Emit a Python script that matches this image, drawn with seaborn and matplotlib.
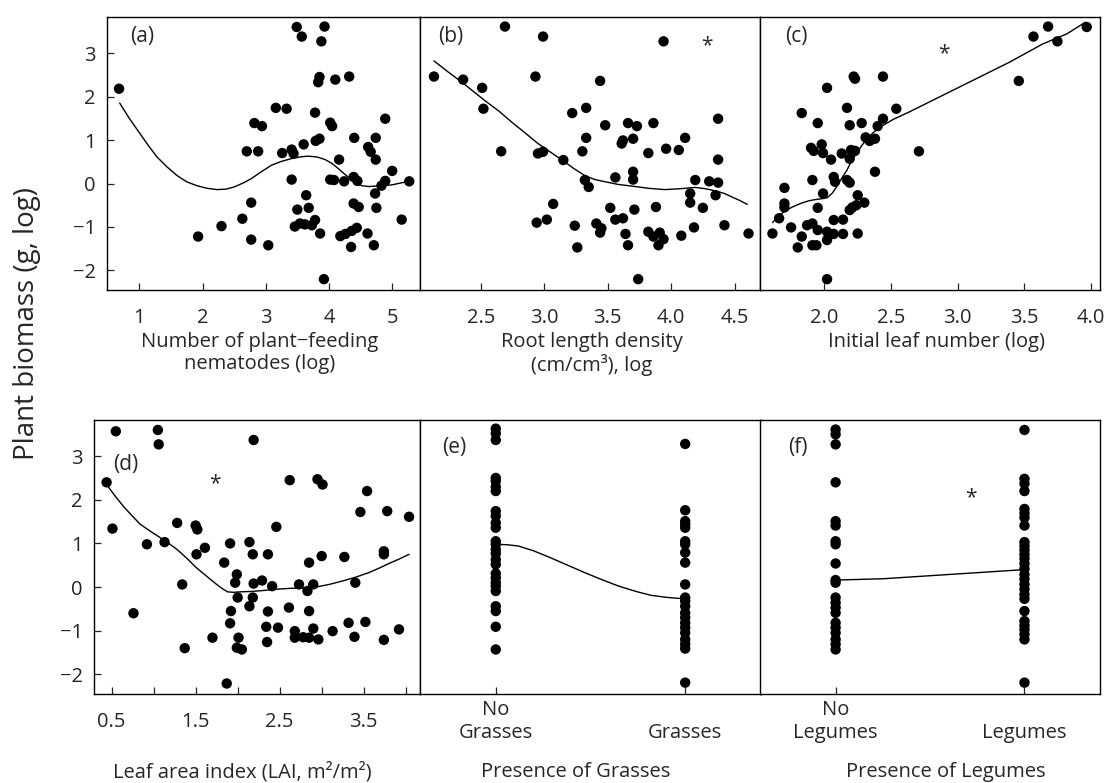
import matplotlib
matplotlib.use("Agg")
import matplotlib.pyplot as plt
import seaborn as sns

# (a) number of plant-feeding nematodes (log)
nema_x = [0.68, 3.49, 3.57, 3.93, 3.88, 3.85, 3.83, 4.10, 4.32, 3.16, 3.33, 3.78, 2.82, 2.94, 4.02,
          4.05, 4.89, 4.40, 4.74, 3.79, 3.85, 3.60, 2.70, 2.88, 3.26, 3.41, 3.44, 4.62, 4.66, 4.74,
          4.16, 5.00, 3.41, 4.02, 4.08, 4.24, 4.39, 4.45, 4.89, 4.83, 4.73, 3.64, 2.77, 4.39, 4.47,
          3.50, 3.68, 4.75, 2.63, 3.46, 3.54, 3.62, 3.78, 3.73, 3.86, 2.30, 1.93, 2.77, 3.04, 4.18,
          4.26, 4.36, 4.44, 4.35, 4.61, 4.71, 3.92, 5.27, 5.15]
nema_y = [2.18, 3.60, 3.38, 3.61, 3.27, 2.45, 2.33, 2.39, 2.46, 1.74, 1.72, 1.63, 1.39, 1.32, 1.40,
          1.32, 1.49, 1.05, 1.05, 0.98, 1.03, 0.90, 0.74, 0.74, 0.70, 0.78, 0.69, 0.84, 0.73, 0.55,
          0.55, 0.29, 0.09, 0.09, 0.08, 0.05, 0.15, 0.06, 0.06, -0.05, -0.23, -0.27, -0.44, -0.46, -0.54,
          -0.60, -0.56, -0.56, -0.81, -0.99, -0.92, -0.94, -0.84, -0.96, -1.15, -0.98, -1.22, -1.29, -1.42, -1.21,
          -1.16, -1.09, -1.02, -1.46, -1.15, -1.42, -2.20, 0.05, -0.83]
nema_fit_x = [0.69, 0.85, 1.01, 1.15, 1.28, 1.44, 1.60, 1.75, 1.91, 2.07, 2.23, 2.37, 2.50, 2.64,
              2.77, 2.93, 3.09, 3.25, 3.40, 3.54, 3.67, 3.81, 3.94, 4.05, 4.15, 4.26, 4.36, 4.44,
              4.52, 4.63, 4.73, 4.87, 5.00, 5.13, 5.26]
nema_fit_y = [1.85, 1.48, 1.15, 0.86, 0.61, 0.38, 0.18, 0.04, -0.05, -0.11, -0.14, -0.13, -0.08, 0.01,
              0.11, 0.27, 0.42, 0.51, 0.57, 0.61, 0.63, 0.61, 0.55, 0.46, 0.34, 0.20, 0.08, 0.00,
              -0.05, -0.07, -0.06, -0.05, -0.03, 0.01, 0.05]

# (b) root length density (cm/cm3), log
root_x = [2.13, 2.69, 2.99, 3.94, 2.36, 2.51, 2.52, 2.93, 3.44, 2.66, 2.95, 2.99, 3.15, 3.22, 3.33,
          3.48, 3.66, 3.73, 3.86, 4.37, 3.33, 3.30, 3.61, 3.62, 3.70, 3.82, 3.96, 4.06, 4.11, 4.37,
          3.32, 3.35, 3.56, 3.70, 3.70, 4.19, 4.30, 4.37, 4.15, 4.15, 4.25, 4.35, 3.07, 2.94, 3.02,
          3.24, 3.26, 3.41, 3.45, 3.44, 3.52, 3.56, 3.62, 3.71, 3.64, 3.66, 3.82, 3.86, 3.91, 3.94,
          3.90, 3.88, 4.08, 4.18, 4.42, 4.61, 3.74]
root_y = [2.46, 3.61, 3.38, 3.27, 2.39, 2.20, 1.72, 2.46, 2.36, 0.74, 0.69, 0.73, 0.54, 1.62, 1.74,
          1.34, 1.39, 1.32, 1.39, 1.49, 1.05, 0.74, 0.92, 0.99, 1.03, 0.70, 0.80, 0.77, 1.05, 0.55,
          0.08, -0.08, 0.14, 0.27, 0.09, 0.08, 0.05, 0.02, -0.23, -0.44, -0.56, -0.27, -0.47, -0.90, -0.83,
          -0.97, -1.47, -0.92, -1.03, -1.13, -0.56, -0.83, -0.80, -0.60, -1.16, -1.42, -1.11, -1.22, -1.13, -1.28,
          -1.42, -0.54, -1.20, -1.01, -0.96, -1.15, -2.20]
root_fit_x = [2.13, 2.24, 2.35, 2.44, 2.53, 2.64, 2.74, 2.85, 2.95, 3.05, 3.14, 3.23, 3.32, 3.40,
              3.48, 3.58, 3.69, 3.82, 3.95, 4.07, 4.19, 4.27, 4.35, 4.42, 4.48, 4.54, 4.60]
root_fit_y = [2.82, 2.57, 2.33, 2.12, 1.91, 1.67, 1.42, 1.16, 0.92, 0.72, 0.54, 0.35, 0.18, 0.09,
              0.04, -0.02, -0.06, -0.11, -0.14, -0.12, -0.09, -0.12, -0.17, -0.23, -0.31, -0.39, -0.48]

# (c) initial leaf number (log)
leaf_x = [1.61, 1.66, 1.70, 1.70, 1.70, 1.75, 1.80, 1.83, 1.83, 1.87, 1.91, 1.91, 1.94, 1.95, 1.95,
          1.95, 1.90, 1.92, 1.98, 1.99, 1.91, 1.99, 2.02, 2.02, 2.02, 2.05, 2.07, 2.08, 2.07, 2.07,
          2.14, 2.14, 2.02, 2.13, 2.17, 2.19, 2.19, 2.22, 2.23, 2.20, 2.23, 2.17, 2.19, 2.19, 2.21,
          2.24, 2.25, 2.30, 2.25, 2.28, 2.31, 2.34, 2.38, 2.40, 2.44, 2.44, 2.54, 2.38, 2.71, 3.46,
          3.57, 3.68, 3.75, 3.97]
leaf_y = [-1.15, -0.80, -0.10, -0.46, -0.55, -1.01, -1.47, -1.22, 1.62, -0.96, -0.92, -1.42, -1.42, -1.07, -0.56,
          1.39, 0.82, 0.75, 0.90, 0.70, 0.08, -0.23, 2.20, -1.11, -1.30, 0.55, 0.15, 0.04, -0.84, -1.16,
          -0.83, -1.16, -2.20, 0.69, 1.74, 1.34, 0.57, 2.46, 2.41, 0.77, 0.75, 0.08, 0.02, -0.61, -0.55,
          -0.50, -0.27, -0.44, -1.15, 1.39, 1.06, 0.98, 1.03, 1.32, 1.49, 2.46, 1.72, 0.27, 0.74, 2.36,
          3.38, 3.61, 3.27, 3.60]
leaf_fit_x = [1.61, 1.65, 1.70, 1.76, 1.82, 1.88, 1.93, 1.98, 2.02, 2.06, 2.09, 2.13, 2.17, 2.20,
              2.24, 2.28, 2.32, 2.37, 2.42, 2.52, 2.64, 2.89, 3.14, 3.39, 3.64, 3.82, 3.96]
leaf_fit_y = [-0.90, -0.77, -0.64, -0.54, -0.46, -0.40, -0.37, -0.35, -0.33, -0.22, -0.08, 0.12, 0.31, 0.50,
              0.69, 0.87, 1.03, 1.18, 1.30, 1.48, 1.65, 2.03, 2.41, 2.79, 3.21, 3.44, 3.71]

# (d) leaf area index (LAI, m2/m2)
lai_x = [0.55, 1.05, 1.06, 2.19, 0.44, 0.51, 0.92, 1.13, 0.76, 1.28, 1.34, 1.37, 1.50, 1.52, 1.51,
         1.61, 1.70, 1.84, 1.91, 1.99, 1.97, 2.00, 1.92, 1.91, 2.01, 1.99, 2.05, 1.87, 2.14, 2.18,
         2.19, 2.29, 2.18, 2.14, 2.36, 2.46, 2.41, 2.36, 2.34, 2.35, 2.48, 2.62, 2.61, 2.68, 2.68,
         2.73, 2.78, 2.85, 2.83, 2.90, 2.85, 2.90, 2.85, 2.96, 2.95, 3.01, 3.00, 3.13, 3.27, 3.32,
         3.40, 3.39, 3.52, 3.46, 3.54, 3.74, 3.74, 3.74, 3.78, 4.04, 3.92]
lai_y = [3.57, 3.60, 3.27, 3.37, 2.40, 1.34, 0.98, 1.03, -0.60, 1.47, 0.06, -1.40, 1.41, 1.32, 0.75,
         0.90, -1.16, 0.56, 1.00, 0.29, 0.10, -0.24, -0.55, -0.83, -1.16, -1.39, -1.43, -2.21, 1.03, 0.75,
         0.08, 0.15, -0.24, -0.44, 0.75, 1.38, 0.02, -0.56, -0.91, -1.26, -0.93, 2.45, -0.47, -1.01, -1.16,
         0.06, -1.15, 0.56, -0.09, 0.06, -0.55, -0.95, -1.16, -1.20, 2.47, 2.35, 0.71, -1.01, 0.69, -0.82,
         0.10, -1.14, -0.80, 1.72, 2.20, 0.82, 0.75, -1.21, 1.74, 1.61, -0.97]
lai_fit_x = [0.44, 0.54, 0.64, 0.74, 0.84, 0.96, 1.08, 1.18, 1.28, 1.40, 1.51, 1.63, 1.75, 1.82,
             1.88, 1.95, 2.03, 2.17, 2.30, 2.46, 2.62, 2.78, 2.93, 3.09, 3.25, 3.41, 3.56, 3.68,
             3.80, 3.92, 4.04]
lai_fit_y = [2.35, 2.09, 1.85, 1.64, 1.44, 1.28, 1.13, 1.00, 0.86, 0.65, 0.44, 0.25, 0.06, -0.04,
             -0.11, -0.12, -0.11, -0.10, -0.08, -0.05, -0.03, -0.02, 0.00, 0.06, 0.14, 0.23, 0.33, 0.43,
             0.54, 0.64, 0.75]

# (e) presence of grasses: 0 = no grasses, 1 = grasses
grass_labels = ["No\nGrasses", "\nGrasses"]
no_grass_y = [3.63, 3.52, 3.37, 2.50, 2.43, 2.30, 2.20, 1.74, 1.63, 1.47, 1.36, 1.05, 0.98, 0.86,
              0.77, 0.63, 0.52, 0.31, 0.21, 0.10, 0.02, -0.09, -0.44, -0.55, -0.91, -1.43]
grass_y = [3.28, 1.76, 1.51, 1.44, 1.36, 1.05, 0.98, 0.79, 0.56, 0.06, -0.24, -0.32, -0.44, -0.59,
           -0.70, -0.82, -0.93, -1.05, -1.20, -1.31, -1.41, -2.19]
grass_fit_x = [0.0, 0.06, 0.12, 0.20, 0.29, 0.38, 0.47, 0.56, 0.65, 0.74, 0.82, 0.91, 1.0]
grass_fit_y = [0.98, 0.97, 0.94, 0.83, 0.67, 0.50, 0.33, 0.17, 0.02, -0.10, -0.19, -0.24, -0.27]

# (f) presence of legumes: 0 = no legumes, 1 = legumes
legume_labels = ["No\nLegumes", "\nLegumes"]
no_legume_y = [3.61, 3.50, 3.27, 2.40, 1.51, 1.41, 1.05, 0.98, 0.54, 0.16, 0.10, -0.24, -0.36, -0.47,
               -0.59, -0.82, -0.93, -1.05, -1.20, -1.31, -1.43]
legume_y = [3.60, 2.48, 2.37, 2.20, 1.79, 1.69, 1.59, 1.41, 1.03, 0.94, 0.85, 0.75, 0.65, 0.54,
            0.42, 0.29, 0.18, 0.06, -0.05, -0.17, -0.27, -0.55, -0.78, -0.88, -0.97, -1.08, -1.20, -2.19]
legume_fit_x = [0.0, 0.25, 0.5, 0.75, 1.0]
legume_fit_y = [0.16, 0.19, 0.26, 0.33, 0.40]

sns.set_style("ticks")
plt.rcParams["font.family"] = ["Open Sans", "DejaVu Sans"]
plt.rcParams["font.size"] = 14.5
plt.rcParams["axes.linewidth"] = 1.0

fig = plt.figure(figsize=(11.07, 7.83), dpi=100)
ax_a = fig.add_axes([0.0967, 0.6296, 0.2827, 0.3487])
ax_b = fig.add_axes([0.3794, 0.6296, 0.3071, 0.3487])
ax_c = fig.add_axes([0.6866, 0.6296, 0.3071, 0.3487])
ax_d = fig.add_axes([0.0849, 0.1137, 0.2945, 0.3500])
ax_e = fig.add_axes([0.3794, 0.1137, 0.3080, 0.3500])
ax_f = fig.add_axes([0.6866, 0.1137, 0.3071, 0.3500])

dot = dict(color="black", s=56, edgecolor="none", linewidth=0)
fit = dict(color="black", lw=1.0, estimator=None)

sns.scatterplot(x=nema_x, y=nema_y, ax=ax_a, **dot)
sns.lineplot(x=nema_fit_x, y=nema_fit_y, ax=ax_a, **fit)
sns.scatterplot(x=root_x, y=root_y, ax=ax_b, **dot)
sns.lineplot(x=root_fit_x, y=root_fit_y, ax=ax_b, **fit)
sns.scatterplot(x=leaf_x, y=leaf_y, ax=ax_c, **dot)
sns.lineplot(x=leaf_fit_x, y=leaf_fit_y, ax=ax_c, **fit)
sns.scatterplot(x=lai_x, y=lai_y, ax=ax_d, **dot)
sns.lineplot(x=lai_fit_x, y=lai_fit_y, ax=ax_d, **fit)
sns.scatterplot(x=[0] * len(no_grass_y) + [1] * len(grass_y), y=no_grass_y + grass_y, ax=ax_e, **dot)
sns.lineplot(x=grass_fit_x, y=grass_fit_y, ax=ax_e, **fit)
sns.scatterplot(x=[0] * len(no_legume_y) + [1] * len(legume_y), y=no_legume_y + legume_y, ax=ax_f, **dot)
sns.lineplot(x=legume_fit_x, y=legume_fit_y, ax=ax_f, **fit)

ax_a.set_xlim(0.49, 5.44)
ax_a.set_xticks([1, 2, 3, 4, 5])
ax_b.set_xlim(2.02, 4.70)
ax_b.set_xticks([2.5, 3.0, 3.5, 4.0, 4.5])
ax_b.set_xticklabels(["2.5", "3.0", "3.5", "4.0", "4.5"])
ax_c.set_xlim(1.517, 4.07)
ax_c.set_xticks([2.0, 2.5, 3.0, 3.5, 4.0])
ax_c.set_xticklabels(["2.0", "2.5", "3.0", "3.5", "4.0"])
ax_d.set_xlim(0.29, 4.17)
ax_d.set_xticks([0.5, 1.0, 1.5, 2.0, 2.5, 3.0, 3.5, 4.0])
ax_d.set_xticklabels(["0.5", "", "1.5", "", "2.5", "", "3.5", ""])
for ax, labels in [(ax_e, grass_labels), (ax_f, legume_labels)]:
    ax.set_xlim(-0.40, 1.40)
    ax.set_xticks([0, 1])
    ax.set_xticklabels(labels)

for ax in [ax_a, ax_b, ax_c, ax_d, ax_e, ax_f]:
    ax.set_ylim(-2.45, 3.83)
    ax.tick_params(axis="x", direction="in", length=5, width=0.9, pad=13, labelsize=14.5)
    ax.tick_params(axis="y", direction="in", length=5, width=0.9, pad=8, labelsize=14.5)
    for sp in ax.spines.values():
        sp.set_visible(True)
        sp.set_color("black")
for ax in [ax_e, ax_f]:
    ax.tick_params(axis="x", pad=4)
for ax in [ax_b, ax_c, ax_e, ax_f]:
    ax.set_yticks([])
for ax in [ax_a, ax_d]:
    ax.set_yticks([-2, -1, 0, 1, 2, 3])

# x axis labels
xlabels = [(ax_a, "Number of plant\u2212feeding\nnematodes (log)", 0.489, -0.152),
           (ax_b, "Root length density\n(cm/cm\u00b3), log", 0.506, -0.152),
           (ax_c, "Initial leaf number (log)", 0.52, -0.152),
           (ax_d, "Leaf area index (LAI, m\u00b2/m\u00b2)", 0.454, -0.250),
           (ax_e, "Presence of Grasses", 0.457, -0.250),
           (ax_f, "Presence of Legumes", 0.547, -0.250)]
for ax, text, lx, ly in xlabels:
    ax.set_xlabel(text, fontsize=14.5, linespacing=1.15)
    ax.xaxis.set_label_coords(lx, ly)

# panel letters and significance marks
panels = [(ax_a, "(a)", 0.073, 0.93), (ax_b, "(b)", 0.053, 0.93), (ax_c, "(c)", 0.074, 0.93),
          (ax_d, "(d)", 0.058, 0.836), (ax_e, "(e)", 0.065, 0.90), (ax_f, "(f)", 0.082, 0.898)]
for ax, text, px, py in panels:
    ax.text(px, py, text, transform=ax.transAxes, fontsize=15, ha="left", va="center")

ax_b.text(4.28, 3.18, "*", fontsize=15, ha="center", va="center")
ax_c.text(2.90, 2.99, "*", fontsize=15, ha="center", va="center")
ax_d.text(1.73, 2.37, "*", fontsize=15, ha="center", va="center")
ax_f.text(0.717, 2.05, "*", fontsize=15, ha="center", va="center")

fig.text(0.024, 1 - 324 / 783, "Plant biomass (g, log)", rotation=90, fontsize=20,
         ha="center", va="center")

fig.savefig("out.png", dpi=100)
